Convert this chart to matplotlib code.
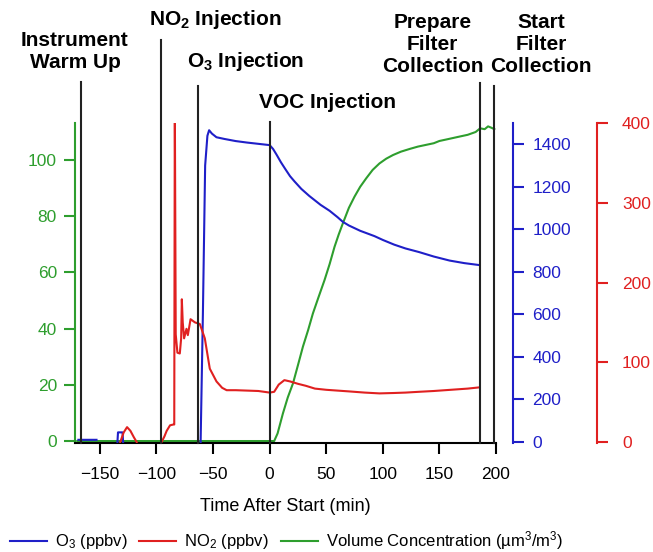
import matplotlib
matplotlib.use('Agg')
import matplotlib.pyplot as plt
import matplotlib.transforms as mtransforms
import numpy as np

plt.rcParams['font.family'] = ['Liberation Sans', 'DejaVu Sans']
plt.rcParams['mathtext.fontset'] = 'custom'
plt.rcParams['mathtext.rm'] = 'Liberation Sans'
plt.rcParams['mathtext.it'] = 'Liberation Sans'
plt.rcParams['mathtext.bf'] = 'Liberation Sans:bold'

# O3 (ppbv), right blue axis
t_o3 = [-169, -153, np.nan,
        -134.5, -134, -130, -129.5, np.nan,
        -61, -59, -57, -55, -53.5, -51, -47, -40, -30, -20, -10, 0, 3, 6, 10, 14, 18,
        22, 28, 35, 45, 53, 60, 64.7, 70, 80, 92.6, 100, 110, 120, 132, 145, 159, 172, 185]
o3 = [10, 10, np.nan,
      0, 45, 45, 0, np.nan,
      0, 600, 1300, 1440, 1466, 1450, 1433, 1425, 1415, 1408, 1402, 1396, 1378, 1352, 1315, 1282, 1250,
      1225, 1190, 1157, 1115, 1087, 1057, 1035, 1018, 993, 968, 950, 928, 910, 893, 872, 853, 841, 832]

# NO2 (ppbv), right red axis
t_no2 = [-132, -129, -126, -123, -120, -117.5, np.nan,
         -95.5, -93, -91, -88, -85, -84.3, -83.8, -83.0, -81.5, -79.4, -78.2, -77.6, -76.8,
         -75.6, -73.5, -72.3, -69.9, -66, -61.7, -57.3, -52.9, -47, -42, -38, -30, -20, -10,
         -5, 0, 4, 8, 13, 18, 25, 32, 40, 50, 60, 70, 84, 97, 110, 120, 132, 145, 160, 175, 185]
no2 = [0, 12, 18.7, 14, 6, 0, np.nan,
       0, 7, 14, 21, 22, 22, 430, 135, 112, 111, 130, 179, 150,
       130, 142, 134, 154, 150, 148, 130, 92, 76, 68, 65, 65, 64.5, 64,
       63, 62, 63, 72, 77.6, 76, 73, 70.5, 67, 65.5, 64.5, 63.5, 62, 61, 61.5, 62, 63, 64, 65.5, 67, 68.5]

# Volume concentration (um3/m3), left green axis
t_vol = [-170, 4, 7, 11.7, 16, 20.6, 25, 29.4, 34, 38.2, 43, 48.5, 53, 57.3, 61, 64.7, 70, 75,
         80, 85.3, 91, 97, 103, 109, 116, 124, 131, 138, 145, 150, 158, 167, 175, 182, 186,
         190, 193, 196, 198.5]
vol = [0, 0, 2.7, 9.8, 15.5, 20.5, 27, 33.6, 39.5, 45.4, 51, 57.3, 63, 69.1, 73.5, 77.5, 83, 87,
       90.5, 93.5, 96.5, 98.8, 100.5, 101.8, 103, 104, 104.8, 105.4, 106, 106.8, 107.5, 108.3, 109,
       110, 111.3, 111, 112, 111.5, 111]

# event markers
events = [-166.5, -96, -63.5, 0, 186, 198.5]
event_tops = [1.128, 1.259, 1.116, 1.003, 1.125, 1.116]
event_labels = ['Instrument\nWarm Up', r'NO$_\mathbf{2}$ Injection', r'O$_\mathbf{3}$ Injection',
                'VOC Injection', 'Prepare\nFilter\nCollection', 'Start\nFilter\nCollection']
label_x = [-172, -48.5, -21, 51, 144, 240]
label_y = [1.223, 1.322, 1.191, 1.0625, 1.244, 1.244]

blue = '#1f1fc8'
red = '#e02020'
green = '#2e9e2e'

fig = plt.figure(figsize=(6.53, 5.52), dpi=100)
ax = fig.add_axes([75/653, 1-443/552, 421/653, 320/552])
ax_o3 = ax.twinx()
ax_no2 = ax.twinx()

l_vol, = ax.plot(t_vol, vol, color=green, lw=1.5)
l_o3, = ax_o3.plot(t_o3, o3, color=blue, lw=1.5)
l_no2, = ax_no2.plot(t_no2, no2, color=red, lw=1.5)

ax.set_xlim(-172, 200)
ax.set_ylim(-0.7, 113.2)
ax_o3.set_ylim(-5, 1500)
ax_no2.set_ylim(-1.2, 400)

ax.spines['top'].set_visible(False)
ax.spines['right'].set_visible(False)
ax.spines['left'].set_color(green)
ax.spines['left'].set_linewidth(1.5)
ax.spines['bottom'].set_linewidth(1.5)
ax.set_xticks([-150, -100, -50, 0, 50, 100, 150, 200])
ax.set_yticks([0, 20, 40, 60, 80, 100])
ax.tick_params(axis='x', length=8, width=1.5, labelsize=12.5, pad=9)
ax.tick_params(axis='y', length=8, width=1.5, labelsize=12.5, pad=5, color=green, labelcolor=green)
ax.set_xlabel('Time After Start (min)', fontsize=13, labelpad=12)

for a, pos, col, ticks, pad in [(ax_o3, 1.04, blue, np.arange(0, 1401, 200), 6),
                               (ax_no2, 1.24, red, np.arange(0, 401, 100), 10)]:
    for s in ['top', 'bottom', 'left']:
        a.spines[s].set_visible(False)
    a.spines['right'].set_position(('axes', pos))
    a.spines['right'].set_color(col)
    a.spines['right'].set_linewidth(1.5)
    a.set_yticks(ticks)
    a.tick_params(axis='y', length=8, width=1.5, labelsize=12.5, pad=pad, color=col, labelcolor=col)

trans = mtransforms.blended_transform_factory(ax.transData, ax.transAxes)
for t, top in zip(events, event_tops):
    ax_no2.plot([t, t], [0, top], color='#222222', lw=1.5, transform=trans, clip_on=False)
for txt, x, y in zip(event_labels, label_x, label_y):
    ax_no2.text(x, y, txt, transform=trans, ha='center', va='center', fontsize=15,
                fontweight='bold', linespacing=1.2, clip_on=False)

fig.legend([l_o3, l_no2, l_vol],
           ['O$_3$ (ppbv)', 'NO$_2$ (ppbv)', 'Volume Concentration (µm$^3$/m$^3$)'],
           loc='lower left', bbox_to_anchor=(0.0, -0.018), ncol=3, frameon=False, fontsize=12,
           handlelength=2.2, handletextpad=0.5, columnspacing=0.7, borderaxespad=0.2)

fig.savefig('out.png', dpi=100)
